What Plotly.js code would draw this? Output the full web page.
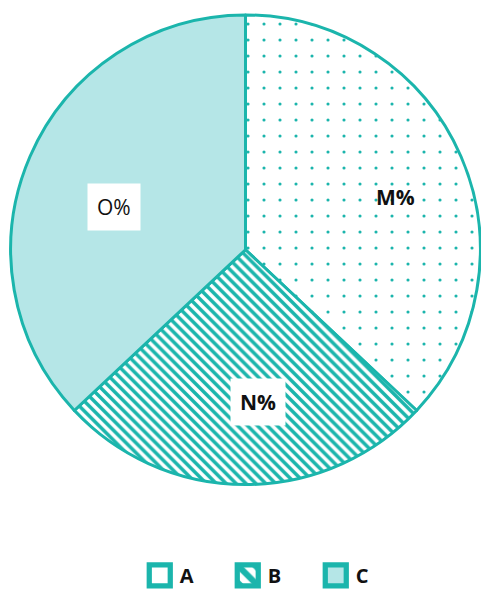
<!DOCTYPE html>
<html>
<head>
<meta charset="utf-8">
<script src="https://cdn.plot.ly/plotly-3.0.1.min.js"></script>
<style>html,body{margin:0;padding:0;background:#fff;}#chart{width:481px;height:595px;}</style>
</head>
<body>
<div id="chart"></div>
<script>
const categories = ["A", "B", "C"];
const values = [37, 26, 37];
const sliceLabels = ["M%", "N%", "O%"];

const teal = "#1bb5ac";
const cFill = "#b5e6e7";
const trace = {
  type: "pie",
  labels: categories,
  values: values,
  sort: false,
  direction: "clockwise",
  rotation: 0,
  textinfo: "none",
  hoverinfo: "none",
  domain: {x: [10/481, 1], y: [108/595, 580/595]},
  marker: {
    colors: ["#ffffff", "#ffffff", cFill],
    line: {color: teal, width: 3},
    pattern: {
      shape: [".", "\\", ""],
      fgcolor: [teal, teal, cFill],
      bgcolor: ["#ffffff", "#ffffff", cFill],
      size: [16, 7, 8],
      solidity: [0.03, 0.5, 0.3],
      fillmode: "replace"
    }
  }
};

const labelPos = [[395, 198], [258, 404], [114, 208]];
const labelWeight = ["bold", "bold", "normal"];
const annotations = sliceLabels.map((t, i) => ({
  text: t,
  xref: "paper", yref: "paper",
  x: labelPos[i][0] / 481, y: 1 - labelPos[i][1] / 595,
  xanchor: "center", yanchor: "middle",
  showarrow: false,
  bgcolor: i === 0 ? "rgba(255,255,255,0)" : "#ffffff",
  borderpad: 9,
  font: {family: "Open Sans, Arial, sans-serif", size: 21, color: "#111111", weight: labelWeight[i]}
}));

const layout = {
  width: 481, height: 595,
  margin: {l: 0, r: 0, t: 0, b: 0},
  paper_bgcolor: "#ffffff",
  showlegend: true,
  legend: {
    orientation: "h",
    x: 0.565, xanchor: "center",
    y: 0.028, yanchor: "middle",
    font: {family: "Open Sans, Arial, sans-serif", size: 20, color: "#111111", weight: "bold"},
    itemwidth: 30,
    entrywidth: 43, entrywidthmode: "pixels",
    bgcolor: "rgba(0,0,0,0)"
  },
  annotations: annotations
};

Plotly.newPlot("chart", [trace], layout, {displayModeBar: false, staticPlot: true}).then(gd => {
  gd.querySelectorAll(".legendpoints path").forEach(p => {
    const t = p.getAttribute("transform") || "";
    p.setAttribute("transform", t + " scale(1.75)");
  });
});
</script>
</body>
</html>
